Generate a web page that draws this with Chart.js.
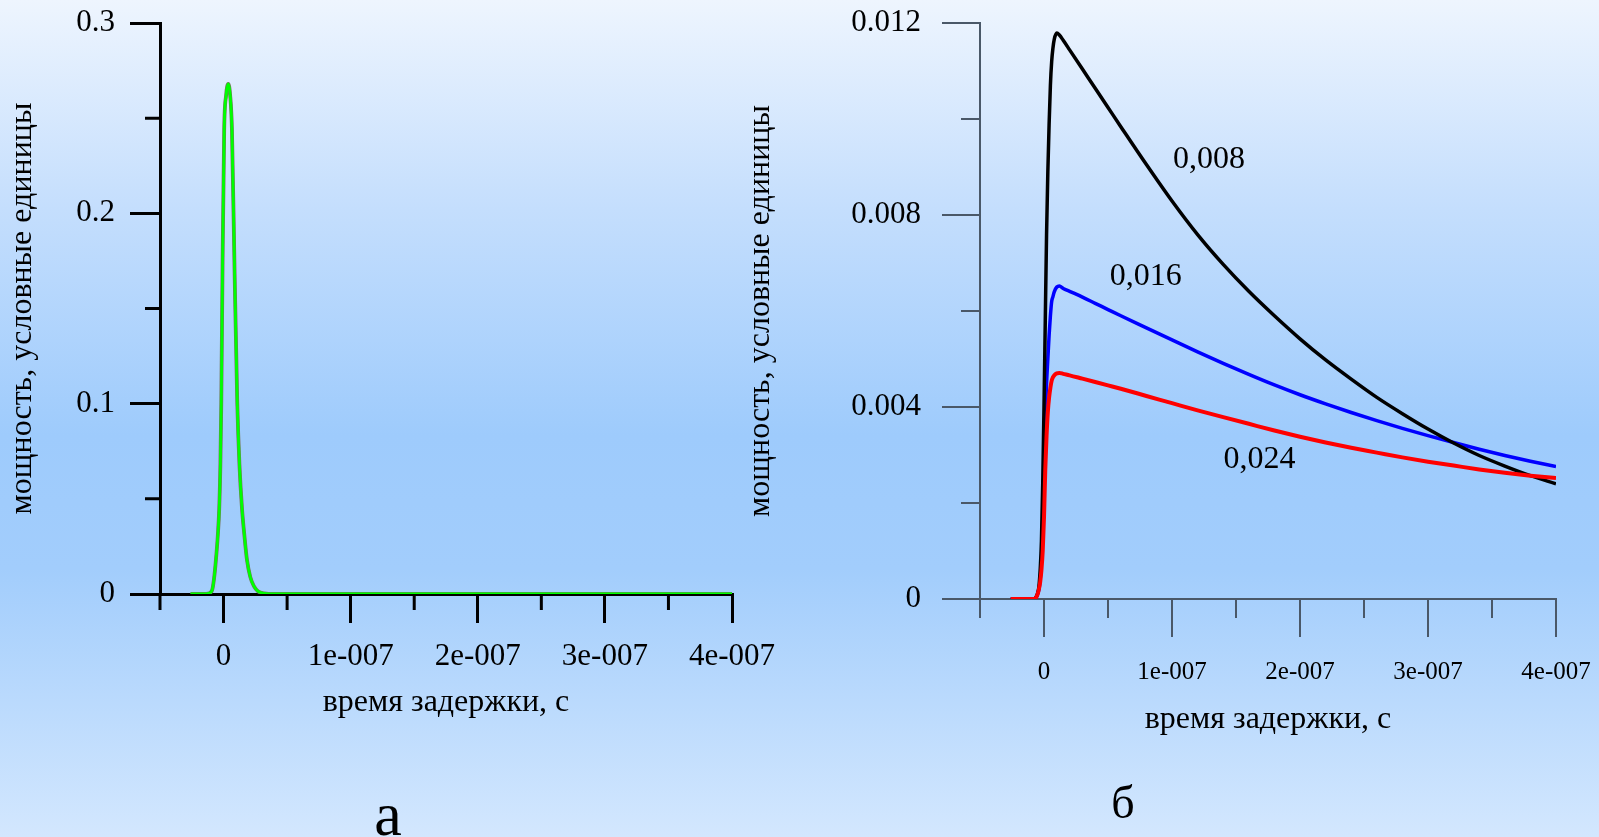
<!DOCTYPE html>
<html>
<head>
<meta charset="utf-8">
<script src="https://cdn.jsdelivr.net/npm/chart.js@4.4.1/dist/chart.umd.min.js"></script>
<style>
    html, body { margin: 0; padding: 0; }
    body {
        width: 1599px; height: 837px; overflow: hidden; position: relative;
        background: linear-gradient(to bottom, #eef5fe 0%, #c4defd 25%, #9ecbfc 52%, #a2cdfc 68%, #d3e7fe 100%);
        font-family: "Liberation Serif", "Times New Roman", serif;
    }
    canvas { position: absolute; top: 0; }
    #chart-a { left: 0; }
    #chart-b { left: 720px; }
    .panel { position: absolute; width: 100px; text-align: center; line-height: 1; color: #000; }
</style>
</head>
<body>
<canvas id="chart-a" width="800" height="837"></canvas>
<canvas id="chart-b" width="879" height="837"></canvas>
<div class="panel" style="left:338px; top:783px; font-size:62px;">а</div>
<div class="panel" style="left:1073px; top:780px; font-size:46px;">б</div>
<script>
// ---- данные (а) ----
const timesA = [-2.6e-8, -1.5e-8, -1.2e-8, -9e-9, -7.5e-9, -6e-9, -4.5e-9, -3.4e-9, -2.5e-9, -1.8e-9, -8e-10,
    5e-10, 2e-9, 3.7e-9, 5.2e-9, 6.6e-9, 8.6e-9, 1.08e-8, 1.25e-8, 1.45e-8, 1.65e-8, 1.84e-8, 2.1e-8,
    2.4e-8, 2.7e-8, 3.2e-8, 4e-8, 1e-7, 2e-7, 3e-7, 4e-7];
const powerA = [0, 0, 0.0003, 0.002, 0.008, 0.018, 0.031, 0.045, 0.068, 0.1, 0.172,
    0.244, 0.262, 0.268, 0.262, 0.244, 0.172, 0.1, 0.068, 0.045, 0.03, 0.018, 0.009,
    0.004, 0.0015, 0.0003, 0, 0, 0, 0, 0];

// ---- данные (б) ----
const timesB = [-2.6e-8, -1.5e-8, -8e-9, -6e-9, -5e-9, -4e-9, -3e-9, -2e-9, -1e-9, 0, 1e-9, 2e-9, 3e-9, 4e-9, 5e-9,
    6e-9, 7e-9, 8e-9, 1e-8, 1.2e-8, 1.5e-8, 2e-8, 3e-8, 4e-8, 5e-8, 6e-8, 8e-8, 1e-7, 1.2e-7, 1.4e-7,
    1.6e-7, 1.8e-7, 2e-7, 2.2e-7, 2.4e-7, 2.6e-7, 2.8e-7, 3e-7, 3.2e-7, 3.4e-7, 3.6e-7, 3.8e-7, 4e-7];
const power008 = [0, 0, 0, 0.00005, 0.00012, 0.00025, 0.0006, 0.0012, 0.0024, 0.004, 0.0058, 0.0076, 0.0089, 0.0099, 0.0107,
    0.0112, 0.01148, 0.01166, 0.01179, 0.01175, 0.01164, 0.01144, 0.01104, 0.01064, 0.01024, 0.00984, 0.00905, 0.00829, 0.00759, 0.00697,
    0.00641, 0.0059, 0.00542, 0.00498, 0.00458, 0.0042, 0.00386, 0.00354, 0.00325, 0.00299, 0.00277, 0.00257, 0.0024];
const power016 = [0, 0, 0, 0.00004, 0.0001, 0.0002, 0.0004, 0.0008, 0.0016, 0.0028, 0.0038, 0.0045, 0.005, 0.0055, 0.0059,
    0.0062, 0.0063, 0.0064, 0.0065, 0.00652, 0.00647, 0.00641, 0.00629, 0.00616, 0.00603, 0.0059, 0.00565, 0.0054, 0.00515, 0.00491,
    0.00468, 0.00446, 0.004255, 0.004065, 0.003885, 0.003715, 0.003555, 0.003405, 0.00326, 0.00312, 0.00299, 0.00287, 0.00276];
const power024 = [0, 0, 0, 0.00004, 0.0001, 0.0002, 0.00035, 0.0006, 0.001, 0.0017, 0.0027, 0.0034, 0.0039, 0.0042, 0.0044,
    0.00455, 0.00462, 0.00466, 0.0047, 0.00471, 0.00469, 0.00466, 0.00459, 0.00452, 0.00445, 0.00438, 0.00423, 0.00408, 0.00393, 0.00379,
    0.00365, 0.00351, 0.00338, 0.00326, 0.00315, 0.00305, 0.00295, 0.00286, 0.00278, 0.0027, 0.00263, 0.00257, 0.00252];

// подписи кривых (б)
const curveLabels = ['0,008', '0,016', '0,024'];
const curveLabelX = [1.29e-7, 7.95e-8, 1.684e-7];
const curveLabelY = [0.00915, 0.00672, 0.0029];

// деления осей
const xMajor = [0, 1e-7, 2e-7, 3e-7, 4e-7];
const xMinor = [-5e-8, 5e-8, 1.5e-7, 2.5e-7, 3.5e-7];
const xTickLabels = ['0', '1e-007', '2e-007', '3e-007', '4e-007'];
const yMajorA = [0, 0.1, 0.2, 0.3];
const yMinorA = [0.05, 0.15, 0.25];
const yTickLabelsA = ['0', '0.1', '0.2', '0.3'];
const yMajorB = [0, 0.004, 0.008, 0.012];
const yMinorB = [0.002, 0.006, 0.01];
const yTickLabelsB = ['0', '0.004', '0.008', '0.012'];

const xTitle = 'время задержки, с';
const yTitle = 'мощность, условные единицы';
const serif = '"Liberation Serif", "Times New Roman", serif';

const pts = (xs, ys) => xs.map((x, i) => ({ x, y: ys[i] }));

// малые деления рисуем сами, через шкалы графика
function minorTicks(xs, ys, xLen, yLen, color, width) {
    return {
        id: 'minorTicks',
        beforeDatasetsDraw(chart) {
            const { ctx, scales: { x, y } } = chart;
            const y0 = y.getPixelForValue(0);
            const xl = x.getPixelForValue(x.min);
            ctx.save();
            ctx.strokeStyle = color;
            ctx.lineWidth = width;
            ctx.beginPath();
            xs.forEach(v => {
                const px = x.getPixelForValue(v);
                ctx.moveTo(px, y0);
                ctx.lineTo(px, y0 + xLen);
            });
            ys.forEach(v => {
                const py = y.getPixelForValue(v);
                ctx.moveTo(xl, py);
                ctx.lineTo(xl - yLen, py);
            });
            ctx.stroke();
            ctx.restore();
        }
    };
}

const curveText = {
    id: 'curveText',
    afterDatasetsDraw(chart) {
        const { ctx, scales: { x, y } } = chart;
        ctx.save();
        ctx.font = '32px ' + serif;
        ctx.fillStyle = '#000';
        ctx.textAlign = 'center';
        ctx.textBaseline = 'middle';
        curveLabels.forEach((t, i) => {
            ctx.fillText(t, x.getPixelForValue(curveLabelX[i]), y.getPixelForValue(curveLabelY[i]));
        });
        ctx.restore();
    }
};

function axes(o) {
    return {
        x: {
            type: 'linear', min: -5e-8, max: 4e-7,
            afterBuildTicks: s => { s.ticks = xMajor.map(v => ({ value: v })); },
            afterFit: s => { s.height = o.xHeight; s.paddingLeft = 0; s.paddingRight = 0; },
            ticks: {
                color: '#000', padding: o.xPad, maxRotation: 0, autoSkip: false,
                font: { family: serif, size: o.xFont },
                callback: (v, i) => xTickLabels[i]
            },
            grid: { drawOnChartArea: false, drawTicks: true, tickLength: o.xTick, color: o.axis, lineWidth: o.lw },
            border: { display: true, color: o.axis, width: o.lw },
            title: { display: true, text: xTitle, color: '#000', font: { family: serif, size: 32 }, padding: 0 }
        },
        y: {
            type: 'linear', min: 0, max: o.yMax,
            afterBuildTicks: s => { s.ticks = o.yMajor.map(v => ({ value: v })); },
            afterFit: s => { s.width = o.yWidth; s.paddingTop = 0; s.paddingBottom = 0; },
            ticks: {
                color: '#000', padding: o.yPad, autoSkip: false,
                font: { family: serif, size: 31 },
                callback: (v, i) => o.yLabels[i]
            },
            grid: { drawOnChartArea: false, drawTicks: true, tickLength: o.yTick, color: o.axis, lineWidth: o.lw },
            border: { display: true, color: o.axis, width: o.lw },
            title: { display: true, text: yTitle, color: '#000', font: { family: serif, size: 32 }, padding: { top: o.yTitlePad, bottom: 0 } }
        }
    };
}

const baseOptions = {
    responsive: false,
    animation: false,
    devicePixelRatio: 1,
    plugins: { legend: { display: false }, tooltip: { enabled: false } },
    elements: { point: { radius: 0 } }
};

new Chart(document.getElementById('chart-a'), {
    type: 'line',
    data: {
        datasets: [
            { data: pts(timesA, powerA), borderColor: '#00ff00', borderWidth: 2.8, cubicInterpolationMode: 'monotone' },
            { data: pts(timesA, powerA), borderColor: '#76765c', borderWidth: 3.8, cubicInterpolationMode: 'monotone' }
        ]
    },
    options: {
        ...baseOptions,
        layout: { padding: { left: 0, top: 23, right: 68, bottom: 115 } },
        scales: axes({
            yMax: 0.3, yMajor: yMajorA, yLabels: yTickLabelsA, axis: '#000', lw: 3,
            xHeight: 128, xPad: 15, xFont: 31, xTick: 29,
            yWidth: 160, yPad: 15, yTick: 30, yTitlePad: 3
        })
    },
    plugins: [minorTicks(xMinor, yMinorA, 16, 15, '#000', 3)]
});

new Chart(document.getElementById('chart-b'), {
    type: 'line',
    data: {
        datasets: [
            { data: pts(timesB, power024), borderColor: '#ff0000', borderWidth: 4, cubicInterpolationMode: 'monotone' },
            { data: pts(timesB, power008), borderColor: '#000000', borderWidth: 3.5, cubicInterpolationMode: 'monotone' },
            { data: pts(timesB, power016), borderColor: '#0000ff', borderWidth: 3.5, cubicInterpolationMode: 'monotone' }
        ]
    },
    options: {
        ...baseOptions,
        layout: { padding: { left: 0, top: 23, right: 43, bottom: 98 } },
        scales: axes({
            yMax: 0.012, yMajor: yMajorB, yLabels: yTickLabelsB, axis: '#4a5868', lw: 2,
            xHeight: 140, xPad: 20, xFont: 25, xTick: 38,
            yWidth: 260, yPad: 21, yTick: 38, yTitlePad: 21
        })
    },
    plugins: [minorTicks(xMinor, yMinorB, 19, 19, '#4a5868', 2), curveText]
});
</script>
</body>
</html>
